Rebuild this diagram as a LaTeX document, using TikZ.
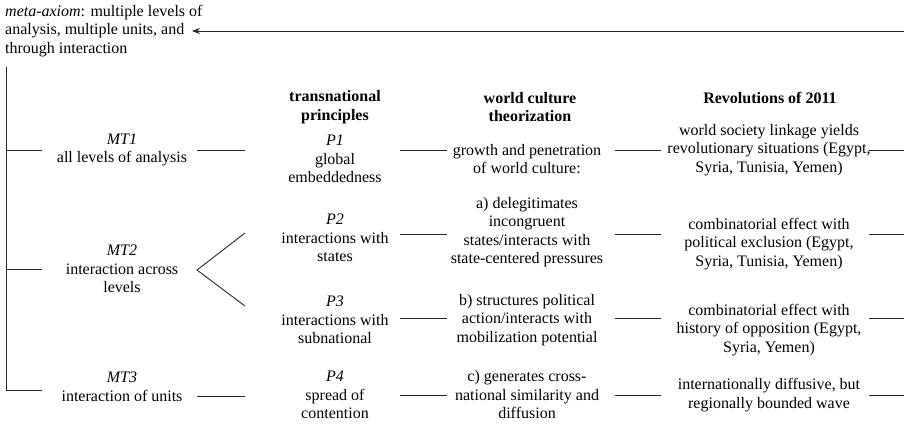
\documentclass[tikz,border=0pt]{standalone}
\usepackage{fontspec}
\setmainfont{Liberation Serif}
\usetikzlibrary{arrows.meta}
\begin{document}
\begin{tikzpicture}[x=1pt,y=-1pt,
  txt/.style={align=center, inner sep=0pt, font=\fontsize{16}{18.5}\selectfont},
  hdr/.style={txt, font=\fontsize{16}{18.5}\selectfont\bfseries},
  ln/.style={line width=0.9pt, draw=black!85}]
\useasboundingbox (0,0) rectangle (904,440);
% meta axiom
\node[txt, align=left, anchor=west] (meta) at (5,31) {\textit{meta-axiom}: multiple levels of\\analysis, multiple units, and\\through interaction};
\coordinate (arrR) at (904,31);
\coordinate (arrL) at (192,31);
\draw[ln, -{Stealth[length=8pt,width=6pt]}] (arrR) -- (arrL);
% headers
\node[hdr] (h1) at (335,107) {transnational\\principles};
\node[hdr] (h2) at (530,107) {world culture\\theorization};
\node[hdr] (h3) at (770,98) {Revolutions of 2011};
% MT column
\node[txt] (mt1) at (122,150) {\textit{MT1}\\all levels of analysis};
\node[txt] (mt2) at (122,269) {\textit{MT2}\\interaction across\\levels};
\node[txt] (mt3) at (122,387) {\textit{MT3}\\interaction of units};
% P column
\node[txt] (p1) at (335,159) {\textit{P1}\\global\\embeddedness};
\node[txt] (p2) at (335,238) {\textit{P2}\\interactions with\\states};
\node[txt] (p3) at (335,320) {\textit{P3}\\interactions with\\subnational};
\node[txt] (p4) at (335,395) {\textit{P4}\\spread of\\contention};
% theory column
\node[txt] (t1) at (527,159) {growth and penetration\\of world culture:};
\node[txt] (t2) at (527,232) {a) delegitimates\\incongruent\\states/interacts with\\state-centered pressures};
\node[txt] (t3) at (527,320) {b) structures political\\action/interacts with\\mobilization potential};
\node[txt] (t4) at (527,395) {c) generates cross-\\national similarity and\\diffusion};
% revolution column
\node[txt] (r1) at (769,150) {world society linkage yields\\revolutionary situations (Egypt,\\Syria, Tunisia, Yemen)};
\node[txt] (r2) at (769,244) {combinatorial effect with\\political exclusion (Egypt,\\Syria, Tunisia, Yemen)};
\node[txt] (r3) at (769,330) {combinatorial effect with\\history of opposition (Egypt,\\Syria, Yemen)};
\node[txt] (r4) at (769,395) {internationally diffusive, but\\regionally bounded wave};
% left bracket
\coordinate (vtop) at (6,67);
\coordinate (vc1) at (6,150);
\coordinate (vc2) at (6,269);
\coordinate (vbot) at (6,390);
\coordinate (l1) at (42,150);
\coordinate (l2) at (42,269);
\coordinate (l3) at (42,390);
\draw[ln] (vtop) -- (vbot) -- (l3);
\draw[ln] (vc1) -- (l1);
\draw[ln] (vc2) -- (l2);
% MT -> P stubs
\coordinate (a1) at (197,150); \coordinate (b1) at (245,150);
\coordinate (vx) at (197,270); \coordinate (vt) at (245,233); \coordinate (vb) at (245,306);
\coordinate (a4) at (197,396); \coordinate (b4) at (245,396);
\draw[ln] (a1) -- (b1);
\draw[ln] (vt) -- (vx) -- (vb);
\draw[ln] (a4) -- (b4);
% P -> theory stubs
\coordinate (c1) at (400,150); \coordinate (d1) at (447,150);
\coordinate (c2) at (400,234); \coordinate (d2) at (447,234);
\coordinate (c3) at (400,318); \coordinate (d3) at (447,318);
\coordinate (c4) at (400,395); \coordinate (d4) at (447,395);
\draw[ln] (c1) -- (d1);
\draw[ln] (c2) -- (d2);
\draw[ln] (c3) -- (d3);
\draw[ln] (c4) -- (d4);
% theory -> revolution stubs
\coordinate (e1) at (615,150); \coordinate (f1) at (661,150);
\coordinate (e2) at (615,234); \coordinate (f2) at (661,234);
\coordinate (e3) at (615,318); \coordinate (f3) at (661,318);
\coordinate (e4) at (615,395); \coordinate (f4) at (661,395);
\draw[ln] (e1) -- (f1);
\draw[ln] (e2) -- (f2);
\draw[ln] (e3) -- (f3);
\draw[ln] (e4) -- (f4);
% revolution -> right edge stubs
\coordinate (g1) at (869,150); \coordinate (k1) at (904,150);
\coordinate (g2) at (869,234); \coordinate (k2) at (904,234);
\coordinate (g3) at (869,318); \coordinate (k3) at (904,318);
\coordinate (g4) at (869,395); \coordinate (k4) at (904,395);
\draw[ln] (g1) -- (k1);
\draw[ln] (g2) -- (k2);
\draw[ln] (g3) -- (k3);
\draw[ln] (g4) -- (k4);
\end{tikzpicture}
\end{document}
